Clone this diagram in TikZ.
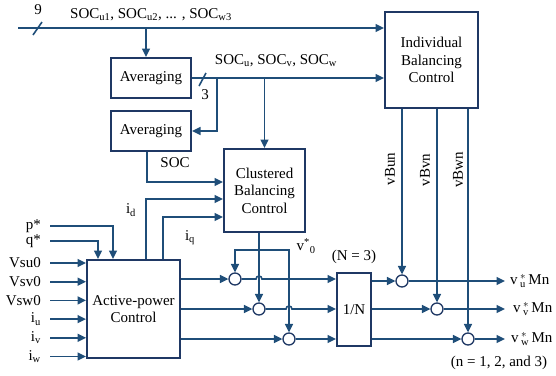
\documentclass[tikz,border=0pt]{standalone}
\usepackage{fontspec}
\setmainfont{Liberation Serif}
\usetikzlibrary{arrows.meta, positioning, calc}
\definecolor{wire}{RGB}{31,78,121}
\definecolor{frame}{RGB}{31,56,100}

\begin{document}
\begin{tikzpicture}[
    x=1pt, y=-1pt,
    every node/.style={font=\fontsize{15}{17.5}\selectfont},
    box/.style={rectangle, draw=frame, line width=2pt, fill=white, align=center, inner sep=2pt},
    sum/.style={circle, draw=frame, line width=1.3pt, fill=white, minimum size=12pt, inner sep=0pt},
    arrow/.style={-{Triangle[length=8.5pt, width=8pt]}, wire, line width=1.6pt},
    bus/.style={wire, line width=1.6pt},
    tag/.style={inner sep=1pt}
]
\useasboundingbox (0,0) rectangle (556,375);

% ============ BLOCKS ============
\node[box, minimum width=80pt, minimum height=40pt] (avg1) at (151,78) {Averaging};
\node[box, minimum width=80pt, minimum height=40pt] (avg2) at (151,131) {Averaging};
\node[box, minimum width=93pt, minimum height=96pt] (ibc) at (431.5,60) {Individual\\Balancing\\Control};
\node[box, minimum width=81pt, minimum height=83pt] (cbc) at (264.5,190.5) {Clustered\\Balancing\\Control};
\node[box, minimum width=93pt, minimum height=98pt] (apc) at (133.5,309) {Active-power\\Control};
\node[box, minimum width=34pt, minimum height=73pt] (invn) at (354,309.5) {1/N};

% Summing points
\node[sum] (sum1) at (235,279) {};
\node[sum] (sum2) at (259,309) {};
\node[sum] (sum3) at (289,339) {};
\node[sum] (sumA) at (402,281) {};
\node[sum] (sumB) at (437,309) {};
\node[sum] (sumC) at (468,339) {};

% ============ SOC BUSES (TOP) ============
\coordinate (bus9) at (18,28);
\draw[arrow] (bus9) -- (bus9 -| ibc.west);
\draw[bus] (33,35) -- (42,22);
\node[tag] (n9) at (38,10) {9};
\node[tag] (socall) at (151,15) {SOC\textsubscript{u1}, SOC\textsubscript{u2}, ... , SOC\textsubscript{w3}};
\draw[arrow] ($(avg1.north |- bus9)+(-5,0)$) -- ($(avg1.north)+(-5,0)$);

% Averaged cluster SOC
\draw[arrow] (avg1.east) -- (avg1.east -| ibc.west);
\draw[bus] (199,86) -- (206,73);
\node[tag] (n3) at (205,95) {3};
\node[tag] (socuvw) at (276,61) {SOC\textsubscript{u}, SOC\textsubscript{v}, SOC\textsubscript{w}};
\coordinate (br1) at ($(avg1.east)+(25,0)$);
\draw[arrow] (br1) |- (avg2.east);
\draw[arrow] (cbc.north |- avg1.east) -- (cbc.north);

% ============ CLUSTERED INPUTS ============
\draw[arrow] ($(avg2.south)+(-4,0)$) |- ($(cbc.west)+(0,-8.5)$);
\node[tag] (soc) at (175,163) {SOC};
\draw[arrow] ($(apc.north)+(12.5,0)$) |- ($(cbc.west)+(0,8.5)$);
\node[tag] (id) at (131,210) {i\textsubscript{d}};
\draw[arrow] ($(apc.north)+(29.5,0)$) |- ($(cbc.west)+(0,26.5)$);
\node[tag] (iq) at (190,238) {i\textsubscript{q}};

% ============ ACTIVE-POWER INPUTS ============
\coordinate (pin) at (50,226);
\coordinate (qin) at (50,241);
\node[tag, left=8pt of pin] (pref) {p*};
\node[tag, left=8pt of qin] (qref) {q*};
\draw[arrow] (pin) -| ($(apc.north)+(-20.5,0)$);
\draw[arrow] (qin) -| ($(apc.north)+(-35.5,0)$);

\foreach \lab [count=\k] in {Vsu0, Vsv0, Vsw0, i\textsubscript{u}, i\textsubscript{v}, i\textsubscript{w}} {
    \coordinate (vin\k) at (50,{244.3+18.7*\k});
    \node[tag, left=8pt of vin\k] (lin\k) {\lab};
    \draw[arrow] (vin\k) -- (vin\k -| apc.west);
}

% ============ SUMMING AND 1/N ============
\draw[arrow] (apc.east |- sum1) -- (sum1.west);
\draw[arrow] (apc.east |- sum2) -- (sum2.west);
\draw[arrow] (apc.east |- sum3) -- (sum3.west);

% v*0 from clustered control
\coordinate (v0) at (259,250);
\draw[arrow] (sum2 |- cbc.south) -- (sum2.north);
\draw[arrow] (v0) -| (sum1.north);
\draw[arrow] (v0) -| (sum3.north);
\node[tag] (v0lbl) at (306,246) {v\textsuperscript{*}\textsubscript{0}};

\draw[arrow] (sum1.east) -- ($(sum1 -| sum2)+(-3,0)$) arc[start angle=180, end angle=0, radius=3pt] -- (sum1 -| invn.west);
\draw[arrow] (sum2.east) -- ($(sum2 -| sum3)+(-3,0)$) arc[start angle=180, end angle=0, radius=3pt] -- (sum2 -| invn.west);
\draw[arrow] (sum3.east) -- (sum3 -| invn.west);
\node[tag] (nlbl) at (354,257) {(N = 3)};

% ============ INDIVIDUAL BALANCING (RIGHT) ============
\draw[arrow] (invn.east |- sumA) -- (sumA.west);
\draw[arrow] (invn.east |- sumB) -- (sumB.west);
\draw[arrow] (invn.east |- sumC) -- (sumC.west);

\draw[arrow] (sumA |- ibc.south) -- (sumA.north);
\draw[arrow] (sumB |- ibc.south) -- (sumB.north);
\draw[arrow] (sumC |- ibc.south) -- (sumC.north);
\node[tag, rotate=90] (vbu) at (390,169) {vBun};
\node[tag, rotate=90] (vbv) at (425,170) {vBvn};
\node[tag, rotate=90] (vbw) at (458,170) {vBwn};

% Outputs
\node[tag, anchor=west] (outu) at (509,281) {v$\,^{*}_{\mathrm{u}}\,$Mn};
\node[tag, anchor=west] (outv) at (512,309) {v$\,^{*}_{\mathrm{v}}\,$Mn};
\node[tag, anchor=west] (outw) at (510,339) {v$\,^{*}_{\mathrm{w}}\,$Mn};
\draw[arrow] (sumA.east) -- ($(outu.west)+(-4,0)$);
\draw[arrow] (sumB.east) -- ($(outv.west)+(-7,0)$);
\draw[arrow] (sumC.east) -- ($(outw.west)+(-5,0)$);
\node[tag] (nn) at (499,363) {(n = 1, 2, and 3)};

\end{tikzpicture}
\end{document}
